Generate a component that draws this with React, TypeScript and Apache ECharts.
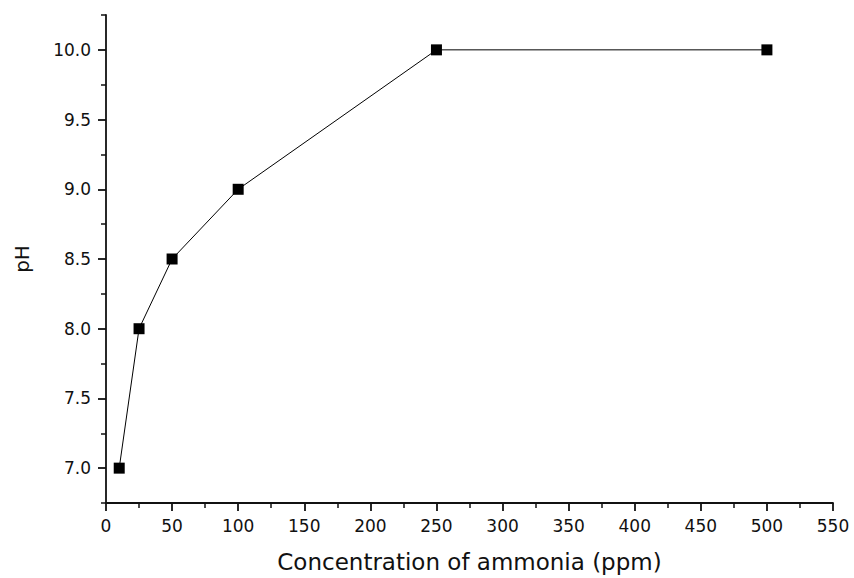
import React, { useEffect, useRef } from "react";
import * as echarts from "echarts";

const concentration = [10, 25, 50, 100, 250, 500];
const phValues = [7.0, 8.0, 8.5, 9.0, 10.0, 10.0];
const yMajorTicks = [7.0, 7.5, 8.0, 8.5, 9.0, 9.5, 10.0];
const yMinorTicks = [6.75, 7.25, 7.75, 8.25, 8.75, 9.25, 9.75, 10.25];
const xMajorTicks = [0, 50, 100, 150, 200, 250, 300, 350, 400, 450, 500, 550];
const xMinorTicks = [25, 75, 125, 175, 225, 275, 325, 375, 425, 475, 525];

const FONT = "DejaVu Sans, Liberation Sans, Arial, sans-serif";
const INK = "#111";

export default function App() {
  const ref = useRef<HTMLDivElement>(null);
  useEffect(() => {
    if (!ref.current) return;
    const chart = echarts.init(ref.current, null, { renderer: "svg" });
    const axisLine = { show: true, onZero: false, lineStyle: { color: INK, width: 1.8 } };
    chart.setOption({
      animation: false,
      backgroundColor: "#fff",
      grid: { left: 106, right: 21, top: 15, bottom: 75 },
      xAxis: [
        {
          type: "value",
          min: 0,
          max: 550,
          interval: 50,
          name: "Concentration of ammonia (ppm)",
          nameLocation: "middle",
          nameGap: 47,
          nameTextStyle: { color: INK, fontSize: 23, fontFamily: FONT },
          axisLine,
          axisTick: { show: true, inside: false, length: 8, lineStyle: { color: INK, width: 1.8 }, customValues: xMajorTicks },
          axisLabel: { color: INK, fontSize: 17, fontFamily: FONT, margin: 14, customValues: xMajorTicks },
          splitLine: { show: false },
        },
        {
          type: "value",
          min: 0,
          max: 550,
          position: "bottom",
          axisLine: { show: false },
          axisTick: { show: true, inside: false, length: 5, lineStyle: { color: INK, width: 1.5 }, customValues: xMinorTicks },
          axisLabel: { show: false },
          splitLine: { show: false },
        },
      ],
      yAxis: [
        {
          type: "value",
          min: 6.75,
          max: 10.25,
          name: "pH",
          nameLocation: "middle",
          nameGap: 74,
          nameRotate: 90,
          nameTextStyle: { color: INK, fontSize: 20, fontFamily: FONT },
          axisLine,
          axisTick: { show: true, inside: false, length: 8, lineStyle: { color: INK, width: 1.8 }, customValues: yMajorTicks },
          axisLabel: {
            color: INK,
            fontSize: 17,
            fontFamily: FONT,
            margin: 15,
            customValues: yMajorTicks,
            formatter: (v: number) => v.toFixed(1),
          },
          splitLine: { show: false },
        },
        {
          type: "value",
          min: 6.75,
          max: 10.25,
          position: "left",
          axisLine: { show: false },
          axisTick: { show: true, inside: false, length: 5, lineStyle: { color: INK, width: 1.5 }, customValues: yMinorTicks },
          axisLabel: { show: false },
          splitLine: { show: false },
        },
      ],
      series: [
        {
          type: "line",
          data: concentration.map((x, i) => [x, phValues[i]]),
          symbol: "rect",
          symbolSize: 11,
          itemStyle: { color: "#000" },
          lineStyle: { color: "#000", width: 1 },
        },
      ],
    });
    return () => chart.dispose();
  }, []);
  return <div ref={ref} style={{ width: 854, height: 578, position: "absolute", left: 0, top: 0 }} />;
}
